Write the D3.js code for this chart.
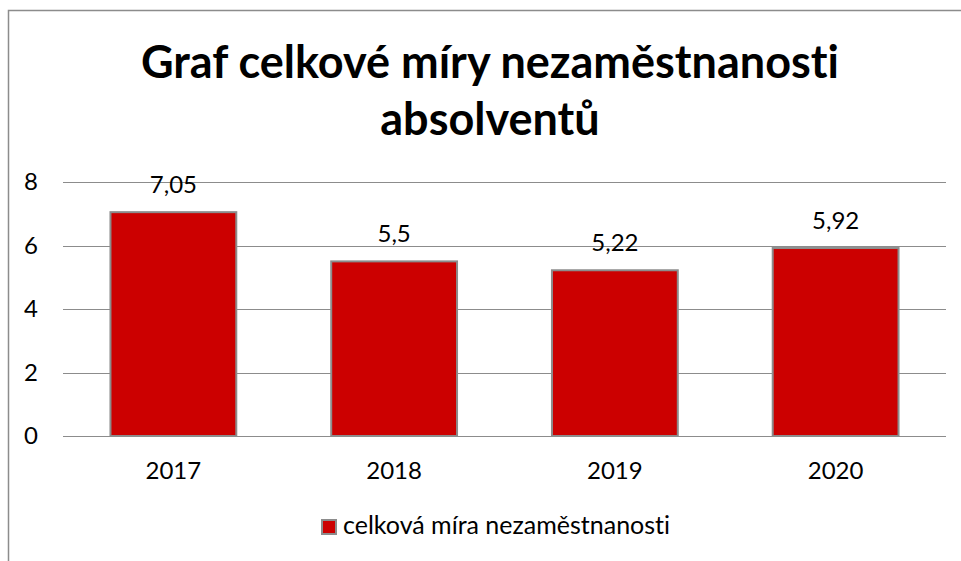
<!DOCTYPE html>
<html lang="cs">
<head>
<meta charset="UTF-8">
<title>Graf celkové míry nezaměstnanosti absolventů</title>
<style>
  body { margin: 0; background: #fff; }
  svg { display: block; font-family: Lato, "Open Sans", sans-serif; font-variant-ligatures: none; }
</style>
</head>
<body>
<svg width="961" height="561"></svg>
<script src="https://d3js.org/d3.v7.min.js"></script>
<script>
const years = ["2017", "2018", "2019", "2020"];
const values = [7.05, 5.5, 5.22, 5.92];
const valueLabels = ["7,05", "5,5", "5,22", "5,92"];
const yTicks = [0, 2, 4, 6, 8];
const seriesName = "celková míra nezaměstnanosti";
const titleLines = ["Graf celkové míry nezaměstnanosti", "absolventů"];

const svg = d3.select("svg");
const plotLeft = 63, plotRight = 946, plotTop = 182, plotBottom = 436;
const font = "Lato, 'Open Sans', sans-serif";

// chart frame (only left and top edges are in view)
svg.append("path")
  .attr("d", "M8.5,561V10.5H961")
  .attr("fill", "none")
  .attr("stroke", "#8c8c8c")
  .attr("stroke-width", 1.5);

svg.selectAll(".title")
  .data(titleLines)
  .join("text")
  .attr("class", "title")
  .attr("x", 490)
  .attr("y", (d, i) => 78 + i * 57)
  .attr("text-anchor", "middle")
  .attr("font-size", 45)
  .attr("font-weight", "bold")
  .attr("fill", "#000")
  .text(d => d);

const x = d3.scaleBand().domain(years).range([plotLeft, plotRight])
  .paddingInner(0.43).paddingOuter(0.215);
const y = d3.scaleLinear().domain([0, 8]).range([plotBottom, plotTop]);

// gridlines
svg.append("g")
  .selectAll("line")
  .data(yTicks)
  .join("line")
  .attr("x1", plotLeft).attr("x2", plotRight)
  .attr("y1", d => Math.round(y(d)) + 0.5)
  .attr("y2", d => Math.round(y(d)) + 0.5)
  .attr("stroke", "#8c8c8c")
  .attr("stroke-width", 1);

// y axis labels
const yAxis = svg.append("g")
  .attr("transform", "translate(38,0)")
  .call(d3.axisLeft(y).tickValues(yTicks).tickSize(0).tickPadding(0));
yAxis.select(".domain").remove();
yAxis.selectAll("text")
  .attr("font-family", font)
  .attr("font-size", 24)
  .attr("fill", "#000");

// x axis labels
const xAxis = svg.append("g")
  .attr("transform", `translate(0,${plotBottom})`)
  .call(d3.axisBottom(x).tickSize(0).tickPadding(26));
xAxis.select(".domain").remove();
xAxis.selectAll("text")
  .attr("font-family", font)
  .attr("font-size", 24)
  .attr("fill", "#000");

// bars
svg.append("g")
  .selectAll("rect")
  .data(years)
  .join("rect")
  .attr("x", d => x(d))
  .attr("y", (d, i) => y(values[i]))
  .attr("width", x.bandwidth())
  .attr("height", (d, i) => y(0) - y(values[i]))
  .attr("fill", "#cc0000")
  .attr("stroke", "#8c8c8c")
  .attr("stroke-width", 2);

// data labels
svg.append("g")
  .selectAll("text")
  .data(years)
  .join("text")
  .attr("x", d => x(d) + x.bandwidth() / 2)
  .attr("y", (d, i) => y(values[i]) - 19)
  .attr("text-anchor", "middle")
  .attr("font-size", 24)
  .attr("fill", "#000")
  .text((d, i) => valueLabels[i]);

// legend
const legend = svg.append("g").attr("transform", "translate(322,520)");
legend.append("rect")
  .attr("x", 0).attr("y", 0)
  .attr("width", 14).attr("height", 14)
  .attr("fill", "#cc0000")
  .attr("stroke", "#8c8c8c")
  .attr("stroke-width", 2);
legend.append("text")
  .attr("x", 21).attr("y", 14)
  .attr("font-size", 25)
  .attr("fill", "#000")
  .text(seriesName);
</script>
</body>
</html>
